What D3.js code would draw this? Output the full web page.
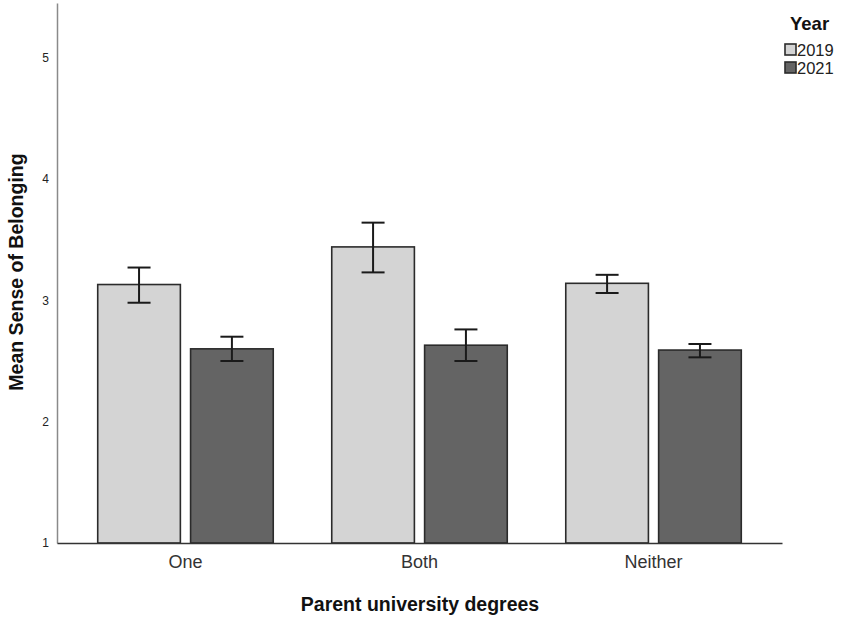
<!DOCTYPE html>
<html>
<head>
<meta charset="utf-8">
<script src="https://cdn.jsdelivr.net/npm/d3@7"></script>
<style>
  body { margin: 0; background: #fff; }
  text { font-family: "Liberation Sans", Arial, sans-serif; }
</style>
</head>
<body>
<div id="chart"></div>
<script>
// data
var categories = ["One", "Both", "Neither"];
var years = ["2019", "2021"];
var means2019 = [3.13, 3.44, 3.14];
var means2021 = [2.60, 2.63, 2.59];
var lower2019 = [2.98, 3.23, 3.06];
var upper2019 = [3.27, 3.64, 3.21];
var lower2021 = [2.50, 2.50, 2.53];
var upper2021 = [2.70, 2.76, 2.64];
var yTicks = [1, 2, 3, 4, 5];

var width = 843, height = 620;
var colors = { "2019": "#d4d4d4", "2021": "#646464" };

var rows = [];
categories.forEach(function(c, i) {
  rows.push({ cat: c, year: "2019", mean: means2019[i], lo: lower2019[i], hi: upper2019[i] });
  rows.push({ cat: c, year: "2021", mean: means2021[i], lo: lower2021[i], hi: upper2021[i] });
});

var svg = d3.select("#chart").append("svg")
    .attr("width", width).attr("height", height);

var x0 = d3.scaleBand().domain(categories).range([57, 782])
    .paddingInner(0.25).paddingOuter(0.174);
var x1 = d3.scaleBand().domain(years).range([0, x0.bandwidth()])
    .paddingInner(0.11);
var y = d3.scaleLinear().domain([1, 5.45]).range([543, 3]);

// bars
svg.selectAll("rect.bar")
    .data(rows)
    .enter()
    .append("rect")
    .attr("class", "bar")
    .attr("x", function(d) { return x0(d.cat) + x1(d.year); })
    .attr("y", function(d) { return y(d.mean); })
    .attr("width", x1.bandwidth())
    .attr("height", function(d) { return y(1) - y(d.mean); })
    .attr("fill", function(d) { return colors[d.year]; })
    .attr("stroke", "#2b2b2b")
    .attr("stroke-width", 1.6);

// error bars
var capW = 23;
var err = svg.selectAll("g.err").data(rows).enter().append("g").attr("class", "err")
    .attr("stroke", "#1a1a1a").attr("stroke-width", 2);
err.append("line")
    .attr("x1", function(d) { return x0(d.cat) + x1(d.year) + x1.bandwidth() / 2; })
    .attr("x2", function(d) { return x0(d.cat) + x1(d.year) + x1.bandwidth() / 2; })
    .attr("y1", function(d) { return y(d.lo); })
    .attr("y2", function(d) { return y(d.hi); });
err.append("line")
    .attr("x1", function(d) { return x0(d.cat) + x1(d.year) + x1.bandwidth() / 2 - capW / 2; })
    .attr("x2", function(d) { return x0(d.cat) + x1(d.year) + x1.bandwidth() / 2 + capW / 2; })
    .attr("y1", function(d) { return y(d.hi); })
    .attr("y2", function(d) { return y(d.hi); });
err.append("line")
    .attr("x1", function(d) { return x0(d.cat) + x1(d.year) + x1.bandwidth() / 2 - capW / 2; })
    .attr("x2", function(d) { return x0(d.cat) + x1(d.year) + x1.bandwidth() / 2 + capW / 2; })
    .attr("y1", function(d) { return y(d.lo); })
    .attr("y2", function(d) { return y(d.lo); });

// y axis
var yAxis = svg.append("g").attr("transform", "translate(57,0)")
    .call(d3.axisLeft(y).tickValues(yTicks).tickSize(0).tickPadding(8).tickFormat(d3.format("d")));
yAxis.select(".domain").attr("stroke", "#8a8a8a").attr("stroke-width", 1.5);
yAxis.selectAll("text").attr("font-size", "12px").attr("fill", "#222")
    .style("font-family", "'Liberation Sans', Arial, sans-serif");

// x axis
var xAxis = svg.append("g").attr("transform", "translate(0,543)")
    .call(d3.axisBottom(x0).tickSize(0).tickPadding(12));
xAxis.select(".domain").attr("stroke", "#333").attr("stroke-width", 1.3);
xAxis.selectAll("text").attr("font-size", "18px").attr("fill", "#333")
    .style("font-family", "'Liberation Sans', Arial, sans-serif");

// axis titles
svg.append("text")
    .attr("x", 420).attr("y", 611)
    .attr("text-anchor", "middle")
    .attr("font-size", "19.5px").attr("font-weight", "bold").attr("fill", "#111")
    .text("Parent university degrees");
svg.append("text")
    .attr("transform", "translate(23,272) rotate(-90)")
    .attr("text-anchor", "middle")
    .attr("font-size", "19.5px").attr("font-weight", "bold").attr("fill", "#111")
    .text("Mean Sense of Belonging");

// legend
svg.append("text")
    .attr("x", 790).attr("y", 30)
    .attr("font-size", "18.5px").attr("font-weight", "bold").attr("fill", "#111")
    .text("Year");
var leg = svg.selectAll("g.leg").data(years).enter().append("g").attr("class", "leg")
    .attr("transform", function(d, i) { return "translate(785," + (44 + i * 18) + ")"; });
leg.append("rect")
    .attr("width", 11).attr("height", 11)
    .attr("fill", function(d) { return colors[d]; })
    .attr("stroke", "#2b2b2b").attr("stroke-width", 1.6);
leg.append("text")
    .attr("x", 12).attr("y", 12)
    .attr("font-size", "16.5px").attr("fill", "#222")
    .text(function(d) { return d; });
</script>
</body>
</html>
